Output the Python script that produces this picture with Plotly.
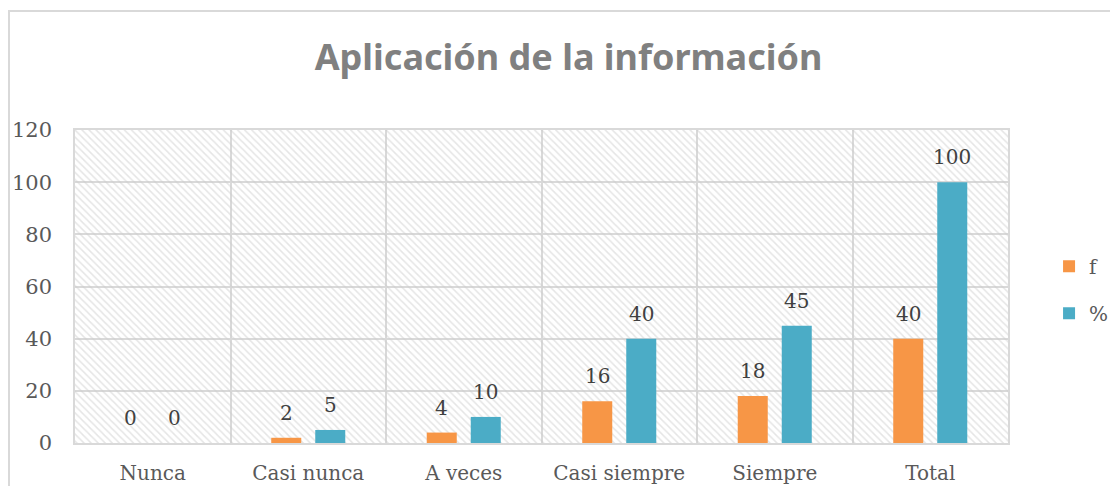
import plotly.graph_objects as go

categories = ["Nunca", "Casi nunca", "A veces", "Casi siempre", "Siempre", "Total"]
f_values = [0, 2, 4, 16, 18, 40]
pct_values = [0, 5, 10, 40, 45, 100]
y_max = 120
y_step = 20

ORANGE = "#F79646"
BLUE = "#4BACC6"
GRID = "#d9d9d9"
SERIF = "DejaVu Serif"

fig = go.Figure()

# hatched plot-area background (decoration on base axis)
fig.add_trace(go.Bar(
    x=[len(categories) / 2], y=[y_max], width=[len(categories)],
    xaxis="x", yaxis="y",
    marker=dict(color="rgba(0,0,0,0)", line=dict(width=0),
                pattern=dict(shape="\\", fgcolor="#cccccc", bgcolor="rgba(0,0,0,0)",
                             size=5, solidity=0.3, fillmode="overlay")),
    showlegend=False, hoverinfo="skip",
))

series = [("f", f_values, ORANGE, "f", -22), ("%", pct_values, BLUE, "pct", 22)]
annotations = []
for name, vals, color, grp, dx in series:
    fig.add_trace(go.Bar(
        name=name, x=categories, y=vals, xaxis="x2", yaxis="y",
        marker=dict(color=color, line=dict(width=0)),
        legendgroup=grp,
    ))
    for cat, v in zip(categories, vals):
        annotations.append(dict(
            x=cat, y=v, xref="x2", yref="y", text=str(v), showarrow=False,
            xshift=dx, yshift=25, yanchor="middle", xanchor="center",
            font=dict(family=SERIF, size=20, color="#404040"),
        ))

fig.update_layout(
    width=1110, height=478,
    margin=dict(l=67, r=110, t=122, b=43, autoexpand=False),
    paper_bgcolor="white", plot_bgcolor="white",
    barmode="group", bargap=0.434, bargroupgap=0.318,
    title=dict(text="<b>Aplicación de la información</b>",
               font=dict(family="Noto Sans", size=36, color="#808080"),
               x=0.505, xanchor="center", y=0.8975, yanchor="middle"),
    xaxis=dict(range=[0, len(categories)], dtick=1, tick0=0, showgrid=True,
               gridcolor=GRID, gridwidth=1.5, showticklabels=False, ticks="",
               showline=True, mirror=True, linecolor=GRID, linewidth=1.5,
               zeroline=False, fixedrange=True),
    xaxis2=dict(overlaying="x", side="bottom", type="category",
                range=[-0.5, len(categories) - 0.5], showgrid=False, ticks="",
                tickfont=dict(family=SERIF, size=20, color="#595959"),
                ticklabelstandoff=16, showline=False, zeroline=False),
    yaxis=dict(range=[0, y_max], dtick=y_step, tick0=0, showgrid=True,
               gridcolor=GRID, gridwidth=1.5, ticks="",
               tickfont=dict(family=SERIF, size=21, color="#595959"),
               ticklabelstandoff=17, showline=True, mirror=True,
               linecolor=GRID, linewidth=1.5, zeroline=False),
    legend=dict(x=1.044, xanchor="left", y=0.49, yanchor="middle",
                font=dict(family=SERIF, size=20, color="#595959"),
                traceorder="grouped", tracegroupgap=18,
                itemwidth=30, bgcolor="rgba(0,0,0,0)"),
    annotations=annotations,
    shapes=[dict(type="rect", xref="paper", yref="paper",
                 x0=(9 - 75) / 933, x1=1.2, y0=-0.3, y1=(443 - 11) / 313,
                 line=dict(color=GRID, width=2), fillcolor="rgba(0,0,0,0)",
                 layer="below")],
)

fig.write_html("out.html")
